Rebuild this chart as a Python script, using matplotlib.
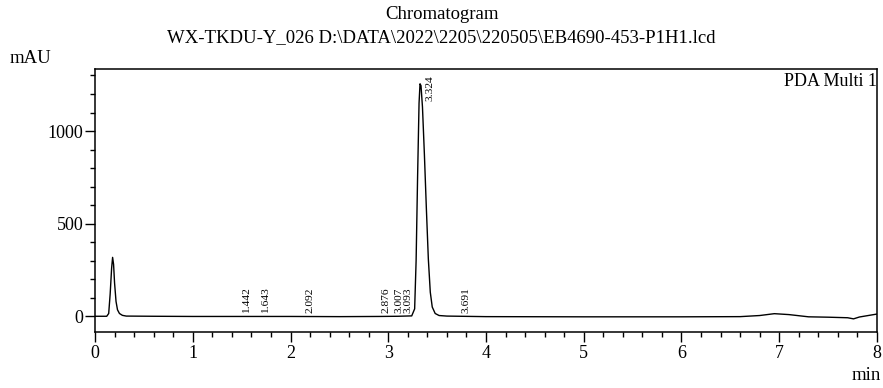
import numpy as np
import matplotlib
matplotlib.use("Agg")
import matplotlib.pyplot as plt
from matplotlib.ticker import MultipleLocator

plt.rcParams['font.family'] = ['Liberation Serif', 'DejaVu Serif']

# chromatogram trace (min, mAU)
time_min = [0.00, 0.12, 0.14, 0.155, 0.17, 0.18, 0.19, 0.20, 0.215, 0.23, 0.25, 0.28, 0.32,
            0.60, 1.00, 1.50, 2.00, 2.50, 2.90, 3.10, 3.24, 3.27, 3.285, 3.30, 3.315,
            3.325, 3.335, 3.35, 3.37, 3.39, 3.41, 3.43, 3.45, 3.48, 3.52, 3.60, 4.00,
            5.00, 6.00, 6.60, 6.80, 6.95, 7.10, 7.30, 7.50, 7.70, 7.76, 7.82, 8.00]
signal_mau = [0, 0, 15, 120, 260, 318, 280, 180, 80, 35, 15, 5, 1,
              0, -1, -1, -1, -2, -1, 0, 2, 40, 300, 750, 1150,
              1255, 1245, 1130, 870, 580, 310, 130, 50, 15, 4, 1, -2,
              -3, -3, -2, 4, 14, 9, -3, -5, -8, -14, -4, 12]

# peak labels
peak_rt = [1.442, 1.643, 2.092, 2.876, 3.007, 3.093, 3.324, 3.691]
peak_lbl_y = [20, 20, 20, 20, 20, 20, 1160, 20]

fig = plt.figure(figsize=(8.83, 3.88), dpi=100)
ax = fig.add_axes([0.1076, 0.1443, 0.8856, 0.6779])

ax.plot(time_min, signal_mau, color='black', lw=1.0)

for rt, ly in zip(peak_rt, peak_lbl_y):
    ax.text(rt + 0.105, ly, f"{rt:.3f}", rotation=90, fontsize=8.2,
            ha='center', va='bottom')

ax.set_xlim(0, 8)
ax.set_ylim(-85, 1335)
ax.xaxis.set_major_locator(MultipleLocator(1))
ax.xaxis.set_minor_locator(MultipleLocator(0.2))
ax.yaxis.set_major_locator(MultipleLocator(500))
ax.yaxis.set_minor_locator(MultipleLocator(100))
ax.tick_params(which='major', direction='out', length=7, width=1, labelsize=13, pad=1.5)
ax.tick_params(which='minor', direction='out', length=3.8, width=1)
ax.tick_params(axis='x', which='major', pad=2.5)
for s in ax.spines.values():
    s.set_linewidth(1.1)

ax.text(1.0, 0.985, "PDA Multi 1", transform=ax.transAxes, ha='right', va='top', fontsize=13)
fig.text(0.011, 0.85, "mAU", ha='left', va='center', fontsize=13.5)
fig.text(0.981, 0.033, "min", ha='center', va='center', fontsize=13.5)

fig.text(0.5, 0.962, "Chromatogram", ha='center', va='center', fontsize=13.5)
fig.text(0.5, 0.903, "WX-TKDU-Y_026 D:\\DATA\\2022\\2205\\220505\\EB4690-453-P1H1.lcd",
         ha='center', va='center', fontsize=13.5)

fig.savefig("out.png", dpi=100)
